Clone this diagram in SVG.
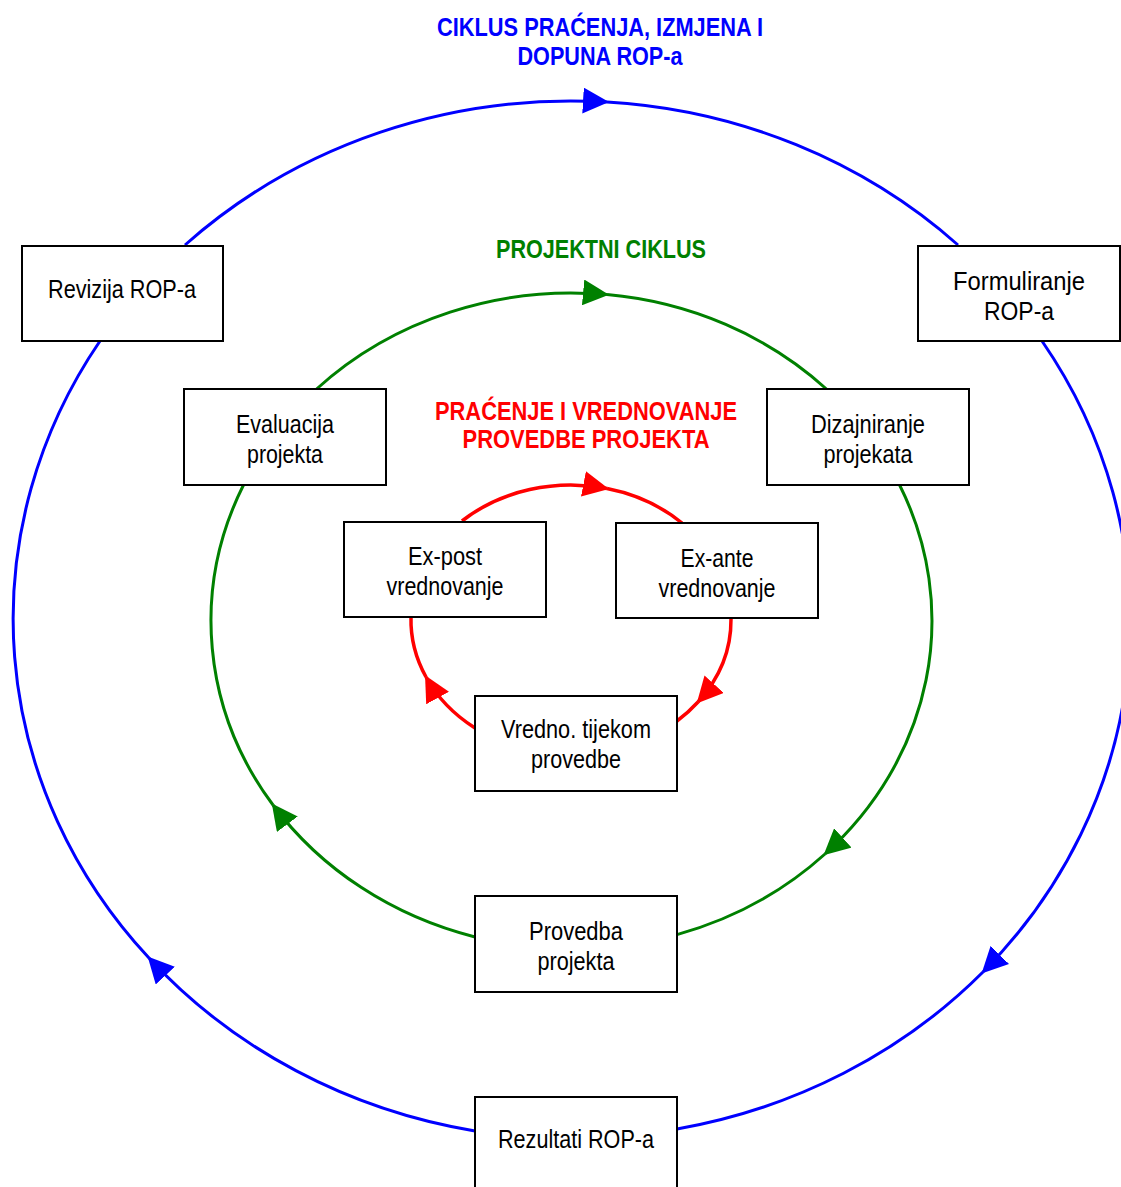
<svg xmlns="http://www.w3.org/2000/svg" width="1121" height="1187" viewBox="0 0 1121 1187">
<style>
.box{fill:#fff;stroke:#000;stroke-width:2}
.lbl{font-family:"Liberation Sans Narrow","Liberation Sans",Arial,sans-serif;font-size:25px;fill:#000;text-anchor:middle}
.ttl{font-family:"Liberation Sans Narrow","Liberation Sans",Arial,sans-serif;font-size:26px;font-weight:bold;text-anchor:middle}
.b{fill:none;stroke:#0000FF;stroke-width:3}
.g{fill:none;stroke:#008000;stroke-width:3}
.r{fill:none;stroke:#FF0000;stroke-width:3.5}
</style>
<defs>
<marker id="ab" markerUnits="userSpaceOnUse" viewBox="0 0 26 26" markerWidth="26" markerHeight="26" refX="24" refY="13" orient="auto"><path d="M0,0 L26,13 L0,26 z" fill="#0000FF"/></marker>
<marker id="ag" markerUnits="userSpaceOnUse" viewBox="0 0 26 26" markerWidth="26" markerHeight="26" refX="24" refY="13" orient="auto"><path d="M0,0 L26,13 L0,26 z" fill="#008000"/></marker>
<marker id="ar" markerUnits="userSpaceOnUse" viewBox="0 0 26 26" markerWidth="26" markerHeight="26" refX="24" refY="13" orient="auto"><path d="M0,0 L26,13 L0,26 z" fill="#FF0000"/></marker>
</defs>
<rect width="1121" height="1187" fill="#fff"/>
<g id="titles">
<text class="ttl" fill="#0000FF" x="600" y="36" textLength="326" lengthAdjust="spacingAndGlyphs">CIKLUS PRAĆENJA, IZMJENA I</text>
<text class="ttl" fill="#0000FF" x="600" y="65" textLength="165" lengthAdjust="spacingAndGlyphs">DOPUNA ROP-a</text>
<text class="ttl" fill="#008000" x="601" y="258" textLength="210" lengthAdjust="spacingAndGlyphs">PROJEKTNI CIKLUS</text>
<text class="ttl" fill="#FF0000" x="586" y="420" textLength="302" lengthAdjust="spacingAndGlyphs">PRAĆENJE I VREDNOVANJE</text>
<text class="ttl" fill="#FF0000" x="586" y="448" textLength="247" lengthAdjust="spacingAndGlyphs">PROVEDBE PROJEKTA</text>
</g>
<g id="connectors">
<path class="b" d="M185,245 A559,519 0 0 1 607,102" marker-end="url(#ab)"/>
<path class="b" d="M607,102 A559,519 0 0 1 958,245"/>
<path class="b" d="M1042,341 A559,519 0 0 1 983,972" marker-end="url(#ab)"/>
<path class="b" d="M983,972 A559,519 0 0 1 677,1129"/>
<path class="b" d="M475,1131 A559,519 0 0 1 149,958" marker-end="url(#ab)"/>
<path class="b" d="M149,958 A559,519 0 0 1 100,341"/>
<path class="g" d="M316.6,389 A360.5,328 0 0 1 607,294.6" marker-end="url(#ag)"/>
<path class="g" d="M607,294.6 A360.5,328 0 0 1 826.4,389"/>
<path class="g" d="M899.6,485 A360.5,328 0 0 1 825,854" marker-end="url(#ag)"/>
<path class="g" d="M825,854 A360.5,328 0 0 1 677,934.6"/>
<path class="g" d="M475,937 A360.5,328 0 0 1 273,805" marker-end="url(#ag)"/>
<path class="g" d="M273,805 A360.5,328 0 0 1 243.5,485"/>
<path class="r" d="M462,521 A160,135 0 0 1 607,488.5" marker-end="url(#ar)"/>
<path class="r" d="M607,488.5 A160,135 0 0 1 682,523"/>
<path class="r" d="M731,619 A160,135 0 0 1 698,702" marker-end="url(#ar)"/>
<path class="r" d="M698,702 A160,135 0 0 1 677,721"/>
<path class="r" d="M475,728 A160,135 0 0 1 426,677" marker-end="url(#ar)"/>
<path class="r" d="M426,677 A160,135 0 0 1 411,617"/>
</g>
<g id="revizija"><rect class="box" x="22" y="246" width="201" height="95"/><text class="lbl" x="122" y="298" textLength="148" lengthAdjust="spacingAndGlyphs">Revizija ROP-a</text></g>
<g id="formuliranje"><rect class="box" x="918" y="246" width="202" height="95"/><text class="lbl" x="1019" y="290" textLength="132" lengthAdjust="spacingAndGlyphs">Formuliranje</text><text class="lbl" x="1019" y="320" textLength="70" lengthAdjust="spacingAndGlyphs">ROP-a</text></g>
<g id="evaluacija"><rect class="box" x="184" y="389" width="202" height="96"/><text class="lbl" x="285" y="433" textLength="98" lengthAdjust="spacingAndGlyphs">Evaluacija</text><text class="lbl" x="285" y="463" textLength="76" lengthAdjust="spacingAndGlyphs">projekta</text></g>
<g id="dizajniranje"><rect class="box" x="767" y="389" width="202" height="96"/><text class="lbl" x="868" y="433" textLength="114" lengthAdjust="spacingAndGlyphs">Dizajniranje</text><text class="lbl" x="868" y="463" textLength="89" lengthAdjust="spacingAndGlyphs">projekata</text></g>
<g id="expost"><rect class="box" x="344" y="522" width="202" height="95"/><text class="lbl" x="445" y="565" textLength="74" lengthAdjust="spacingAndGlyphs">Ex-post</text><text class="lbl" x="445" y="595" textLength="117" lengthAdjust="spacingAndGlyphs">vrednovanje</text></g>
<g id="exante"><rect class="box" x="616" y="523" width="202" height="95"/><text class="lbl" x="717" y="567" textLength="73" lengthAdjust="spacingAndGlyphs">Ex-ante</text><text class="lbl" x="717" y="597" textLength="117" lengthAdjust="spacingAndGlyphs">vrednovanje</text></g>
<g id="tijekom"><rect class="box" x="475" y="696" width="202" height="95"/><text class="lbl" x="576" y="738" textLength="150" lengthAdjust="spacingAndGlyphs">Vredno. tijekom</text><text class="lbl" x="576" y="768" textLength="90" lengthAdjust="spacingAndGlyphs">provedbe</text></g>
<g id="provedba"><rect class="box" x="475" y="896" width="202" height="96"/><text class="lbl" x="576" y="940" textLength="94" lengthAdjust="spacingAndGlyphs">Provedba</text><text class="lbl" x="576" y="970" textLength="77" lengthAdjust="spacingAndGlyphs">projekta</text></g>
<g id="rezultati"><rect class="box" x="475" y="1097" width="202" height="96"/><text class="lbl" x="576" y="1148" textLength="156" lengthAdjust="spacingAndGlyphs">Rezultati ROP-a</text></g>
</svg>
